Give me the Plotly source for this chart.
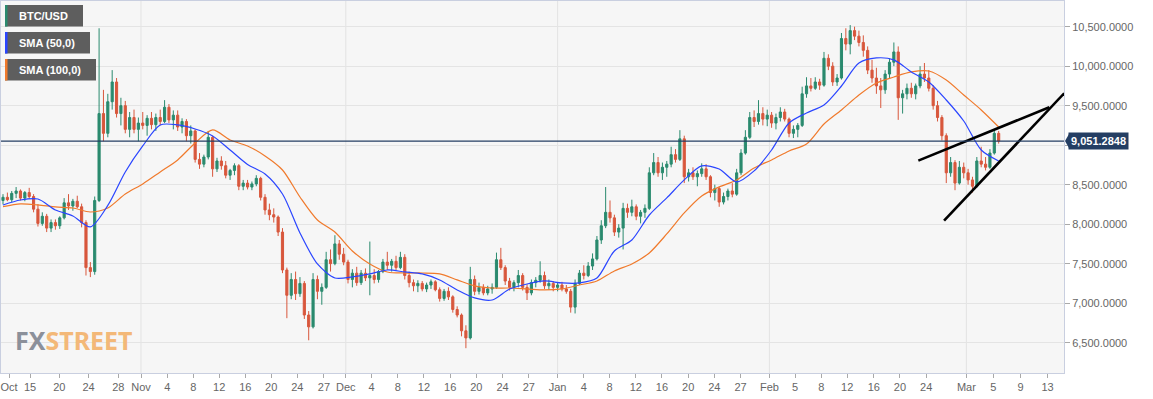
import plotly.graph_objects as go

# ---------------- data ----------------
open_ = [
    8300, 8340, 8310, 8390, 8420, 8330, 8400, 8350, 8190, 8010,
    8100, 7950, 8020, 7980, 8080, 8270, 8230, 8290, 8220, 8020,
    7450, 7400, 8300, 9400, 9150, 9550, 9800, 9400, 9500, 9200,
    9350, 9200, 9280, 9250, 9340, 9260, 9350, 9300, 9480, 9320,
    9380, 9230, 9300, 9120, 9180, 8820, 8760, 8850, 9100, 8700,
    8800, 8740, 8620, 8680, 8740, 8480, 8520, 8470, 8510, 8580,
    8340, 8180, 8120, 8090, 7900, 7420, 7100, 7300, 7120, 7250,
    6850, 6700, 7300, 7150, 7200, 7550, 7500, 7750, 7620, 7520,
    7300, 7380, 7260, 7380, 7320, 7350, 7300, 7400, 7520, 7480,
    7530, 7450, 7580, 7350, 7260, 7220, 7250, 7180, 7230, 7270,
    7170, 7060, 7150, 7080, 6920, 6850, 6650, 6560, 7300, 7150,
    7200, 7130, 7180, 7200, 7550, 7450, 7280, 7200, 7260, 7350,
    7200, 7130, 7260, 7290, 7350, 7220, 7250, 7200, 7230, 7180,
    7150, 6950, 7250, 7380, 7350, 7470, 7560, 7800, 7980, 8150,
    8080, 7900, 7950, 8200, 8150, 8220, 8100, 8150, 8200, 8650,
    8780, 8650, 8720, 8760, 8880, 8820, 9080, 8600, 8650, 8600,
    8640, 8700, 8600, 8400, 8450, 8280, 8350, 8420, 8380, 8650,
    8900, 9100, 9350, 9300, 9400, 9330, 9380, 9280, 9350, 9420,
    9330, 9150, 9200, 9250, 9650, 9750, 9720, 9800, 9760, 10100,
    10000, 9800, 9850, 10350, 10280, 10450, 10380, 10300, 10200, 9950,
    9850, 9750, 9700, 9900, 10050, 10180, 9600, 9650, 9720, 9650,
    9750, 9900, 9850, 9720, 9500, 9350, 9120, 8650, 8780, 8520,
    8720, 8650, 8560, 8480, 8800, 8760, 8720, 8900, 9150,
]
high_ = [
    8380, 8400, 8420, 8470, 8440, 8420, 8460, 8380, 8250, 8150,
    8130, 8060, 8060, 8100, 8330, 8380, 8320, 8360, 8260, 8050,
    7520, 8350, 10480, 9700, 9650, 9950, 9850, 9600, 9560, 9420,
    9450, 9350, 9420, 9380, 9420, 9400, 9450, 9570, 9520, 9440,
    9440, 9340, 9330, 9250, 9200, 8900, 8880, 9180, 9120, 8840,
    8860, 8800, 8700, 8770, 8760, 8560, 8560, 8540, 8620, 8600,
    8380, 8260, 8200, 8110, 7950, 7450, 7380, 7400, 7330, 7280,
    6900, 7380, 7350, 7250, 7650, 7680, 7860, 7800, 7700, 7550,
    7430, 7460, 7420, 7440, 7780, 7430, 7420, 7560, 7650, 7560,
    7600, 7650, 7620, 7400, 7300, 7290, 7280, 7260, 7300, 7290,
    7200, 7180, 7200, 7100, 6960, 6870, 6720, 7460, 7350, 7260,
    7240, 7220, 7250, 7640, 7700, 7480, 7320, 7290, 7420, 7380,
    7240, 7300, 7330, 7530, 7400, 7300, 7280, 7260, 7270, 7230,
    7180, 7300, 7420, 7480, 7520, 7630, 7850, 8050, 8470, 8300,
    8120, 8000, 8270, 8260, 8310, 8250, 8180, 8250, 8720, 8900,
    8850, 8780, 8800, 8980, 8950, 9190, 9120, 8700, 8720, 8680,
    8770, 8760, 8620, 8500, 8480, 8400, 8450, 8520, 8700, 8950,
    9190, 9420, 9440, 9570, 9480, 9450, 9420, 9400, 9480, 9460,
    9350, 9250, 9280, 9740, 9860, 9850, 9860, 9840, 10180, 10150,
    10050, 9900, 10420, 10480, 10520, 10500, 10450, 10390, 10250, 10080,
    9980, 9850, 9950, 10100, 10300, 10250, 9700, 9780, 9790, 9780,
    10000, 10040, 9950, 9760, 9560, 9380, 9150, 8850, 8810, 8800,
    8780, 8700, 8600, 8850, 8980, 8850, 8950, 9200, 9180,
]
low_ = [
    8250, 8290, 8280, 8330, 8300, 8290, 8320, 8150, 7970, 7980,
    7900, 7900, 7930, 7940, 8060, 8180, 8170, 8200, 7960, 7350,
    7330, 7360, 8280, 9050, 9100, 9450, 9350, 9250, 9150, 9100,
    9150, 9050, 9200, 9120, 9200, 9180, 9250, 9280, 9280, 9200,
    9180, 9150, 9050, 9020, 8780, 8700, 8720, 8820, 8600, 8660,
    8690, 8580, 8560, 8620, 8430, 8430, 8440, 8430, 8480, 8300,
    8120, 8050, 8020, 7850, 7380, 6810, 7050, 7040, 7080, 6800,
    6530, 6680, 7050, 6980, 7180, 7400, 7480, 7550, 7480, 7250,
    7200, 7220, 7230, 7280, 7100, 7250, 7260, 7380, 7420, 7400,
    7420, 7430, 7300, 7200, 7150, 7140, 7150, 7140, 7180, 7150,
    7020, 7030, 7040, 6880, 6820, 6580, 6430, 6540, 7100, 7110,
    7100, 7100, 7120, 7180, 7420, 7230, 7160, 7150, 7200, 7160,
    7040, 7100, 7200, 7260, 7180, 7170, 7150, 7150, 7150, 7120,
    6880, 6870, 7230, 7300, 7330, 7420, 7540, 7750, 7950, 8020,
    7850, 7830, 7680, 8080, 8100, 8050, 8010, 8080, 8180, 8620,
    8600, 8560, 8600, 8720, 8780, 8800, 8520, 8540, 8560, 8480,
    8600, 8560, 8340, 8300, 8220, 8250, 8300, 8340, 8360, 8620,
    8880, 9080, 9230, 9260, 9250, 9240, 9220, 9200, 9300, 9300,
    9100, 9090, 9100, 9230, 9600, 9680, 9700, 9700, 9740, 9950,
    9750, 9750, 9830, 10200, 10150, 10330, 10250, 10120, 9900, 9790,
    9650, 9470, 9650, 9850, 10000, 9320, 9400, 9580, 9600, 9580,
    9720, 9800, 9680, 9450, 9300, 9060, 8520, 8600, 8430, 8500,
    8580, 8500, 8400, 8460, 8720, 8680, 8700, 8880, 9020,
]
close_ = [
    8340, 8310, 8390, 8420, 8330, 8400, 8350, 8190, 8010, 8100,
    7950, 8020, 7980, 8080, 8270, 8230, 8290, 8220, 8020, 7450,
    7400, 8300, 9400, 9150, 9550, 9800, 9400, 9500, 9200, 9350,
    9200, 9280, 9250, 9340, 9260, 9350, 9300, 9480, 9320, 9380,
    9230, 9300, 9120, 9180, 8820, 8760, 8850, 9100, 8700, 8800,
    8740, 8620, 8680, 8740, 8480, 8520, 8470, 8510, 8580, 8340,
    8180, 8120, 8090, 7900, 7420, 7100, 7300, 7120, 7250, 6850,
    6700, 7300, 7150, 7200, 7550, 7500, 7750, 7620, 7520, 7300,
    7380, 7260, 7380, 7320, 7350, 7300, 7400, 7520, 7480, 7530,
    7450, 7580, 7350, 7260, 7220, 7250, 7180, 7230, 7270, 7170,
    7060, 7150, 7080, 6920, 6850, 6650, 6560, 7300, 7150, 7200,
    7130, 7180, 7200, 7550, 7450, 7280, 7200, 7260, 7350, 7200,
    7130, 7260, 7290, 7350, 7220, 7250, 7200, 7230, 7180, 7150,
    6950, 7250, 7380, 7350, 7470, 7560, 7800, 7980, 8150, 8080,
    7900, 7950, 8200, 8150, 8220, 8100, 8150, 8200, 8650, 8780,
    8650, 8720, 8760, 8880, 8820, 9080, 8600, 8650, 8600, 8640,
    8700, 8600, 8400, 8450, 8280, 8350, 8420, 8380, 8650, 8900,
    9100, 9350, 9300, 9400, 9330, 9380, 9280, 9350, 9420, 9330,
    9150, 9200, 9250, 9650, 9750, 9720, 9800, 9760, 10100, 10000,
    9800, 9850, 10350, 10280, 10450, 10380, 10300, 10200, 9950, 9850,
    9750, 9700, 9900, 10050, 10180, 9600, 9650, 9720, 9650, 9750,
    9900, 9850, 9720, 9500, 9350, 9120, 8650, 8780, 8520, 8720,
    8650, 8560, 8480, 8800, 8760, 8720, 8900, 9150, 9051.2848,
]

sma_idx = list(range(0, 229, 4))
sma50 = [
    8243, 8306, 8319, 8180, 8104, 7965, 8237, 8661, 8990, 9256,
    9256, 9205, 9117, 8939, 8756, 8636, 8382, 7889, 7496, 7319,
    7332, 7370, 7420, 7395, 7370, 7294, 7167, 7066, 7040, 7180,
    7243, 7281, 7256, 7256, 7319, 7661, 7800, 8116, 8332, 8560,
    8737, 8699, 8535, 8674, 8939, 9281, 9408, 9509, 9749, 10040,
    10104, 10079, 9927, 9800, 9572, 9306, 8939, 8800,
]
sma100 = [
    8221, 8256, 8243, 8218, 8205, 8154, 8205, 8382, 8509, 8661,
    8813, 9028, 9193, 9066, 8990, 8863, 8686, 8344, 8053, 7901,
    7661, 7496, 7395, 7382, 7382, 7370, 7294, 7218, 7192, 7192,
    7180, 7167, 7180, 7230, 7281, 7408, 7496, 7636, 7876, 8142,
    8357, 8471, 8560, 8712, 8813, 8927, 9015, 9268, 9446, 9635,
    9787, 9863, 9927, 9939, 9825, 9635, 9446, 9230,
]

# x-axis labels (candle index at which each date label sits)
tick_pos = [1.4, 6.2, 12.9, 19.6, 26.4,
            31.6, 37.6, 43.6, 49.5, 55.5, 61.4, 67.4, 73.5,
            78.5, 84.4, 90.4, 96.4, 102.4, 108.4, 114.4, 120.4,
            127.0, 133.0, 138.9, 144.9, 150.9, 156.9, 162.9, 168.9,
            175.5, 181.4, 187.4, 193.3, 199.4, 205.4, 211.4,
            220.6, 226.8, 233.0, 239.2]
tick_text = ['Oct', '15', '20', '24', '28',
             'Nov', '4', '8', '12', '16', '20', '24', '27',
             'Dec', '4', '8', '12', '16', '20', '24', '27',
             'Jan', '4', '8', '12', '16', '20', '24', '27',
             'Feb', '5', '8', '12', '16', '20', '24',
             'Mar', '5', '9', '13']
y_ticks = [6500, 7000, 7500, 8000, 8500, 9000, 9500, 10000, 10500]

# hand-drawn trend lines (candle index, price)
trend_x = [[209.6, 239.6], [215.5, 243.0]]
trend_y = [[8804, 9480], [8044, 9657]]

legend_names = ['BTC/USD', 'SMA (50,0)', 'SMA (100,0)']

# ---------------- style ----------------
GREEN = '#2a8a6e'
RED = '#d8573c'
BLUE = '#2a45ff'
ORANGE = '#f07a2c'
NAVY = '#243e63'
FONT = 'Liberation Sans, Arial, sans-serif'
legend_colors = [GREEN, BLUE, ORANGE]
legend_widths = [78, 85, 91]

N = len(close_)
idx = list(range(N))
LAST = close_[-1]

fig = go.Figure()
fig.add_trace(go.Candlestick(
    x=idx, open=open_, high=high_, low=low_, close=close_,
    increasing=dict(line=dict(color=GREEN, width=1), fillcolor=GREEN),
    decreasing=dict(line=dict(color=RED, width=1), fillcolor=RED),
    whiskerwidth=0, hoverinfo='skip', showlegend=False))
fig.add_trace(go.Scatter(x=sma_idx, y=sma100, mode='lines',
                         line=dict(color=ORANGE, width=1.2, shape='spline', smoothing=0.8),
                         hoverinfo='skip', showlegend=False))
fig.add_trace(go.Scatter(x=sma_idx, y=sma50, mode='lines',
                         line=dict(color=BLUE, width=1.2, shape='spline', smoothing=0.8),
                         hoverinfo='skip', showlegend=False))

# month separators
for p, t in zip(tick_pos, tick_text):
    if t.isalpha() and t != 'Oct':
        fig.add_shape(type='line', x0=p, x1=p, y0=0, y1=1, yref='paper',
                      line=dict(color='#e3e3e3', width=1), layer='below')

# trend lines
for xs, ys in zip(trend_x, trend_y):
    fig.add_shape(type='line', x0=xs[0], x1=xs[1], y0=ys[0], y1=ys[1],
                  line=dict(color='black', width=2.6), layer='above')

# last price line + tag
fig.add_shape(type='line', xref='paper', x0=0, x1=1, y0=LAST, y1=LAST,
              line=dict(color=NAVY, width=1.3), layer='above')
fig.add_shape(type='path', xref='paper', xanchor=1, xsizemode='pixel',
              yref='y', yanchor=LAST, ysizemode='pixel',
              path='M 1,0 L 5,7 L 5,-7 Z', fillcolor=NAVY, line=dict(width=0))
fig.add_annotation(x=1, xref='paper', xanchor='left', xshift=4,
                   y=LAST, yref='y', yanchor='middle',
                   text='<b>' + f'{LAST:,.4f}' + '</b>', showarrow=False,
                   bgcolor=NAVY, borderpad=2,
                   font=dict(family=FONT, size=11, color='white'))

# legend boxes
for k, (name, col, w) in enumerate(zip(legend_names, legend_colors, legend_widths)):
    top = 4 + 27 * k
    fig.add_shape(type='rect', xref='paper', xanchor=0, xsizemode='pixel', x0=4, x1=4 + w,
                  yref='paper', yanchor=1, ysizemode='pixel', y0=-top, y1=-(top + 21.5),
                  fillcolor='#5e5e5e', line=dict(width=0), layer='above')
    fig.add_shape(type='rect', xref='paper', xanchor=0, xsizemode='pixel', x0=4, x1=6.5,
                  yref='paper', yanchor=1, ysizemode='pixel', y0=-top, y1=-(top + 21.5),
                  fillcolor=col, line=dict(width=0), layer='above')
    fig.add_annotation(x=0, xref='paper', xanchor='left', xshift=15.5,
                       y=1, yref='paper', yanchor='middle', yshift=-(top + 10.75),
                       text='<b>' + name + '</b>', showarrow=False,
                       font=dict(family=FONT, size=11, color='white'))

# watermark
fig.add_annotation(x=0, xref='paper', xanchor='left', xshift=12,
                   y=0, yref='paper', yanchor='middle', yshift=33,
                   text='<b><span style="fill:#8b909a">FX</span>'
                        '<span style="fill:#f3b878">STREET</span></b>',
                   showarrow=False,
                   font=dict(family='Noto Sans, sans-serif', size=25))

y_text = ['' if abs(v - LAST) < 100 else f'{v:,.4f}' for v in y_ticks]

fig.update_layout(
    width=1153, height=399,
    margin=dict(l=1, r=89, t=1, b=26),
    paper_bgcolor='white', plot_bgcolor='#f6f6f6',
    font=dict(family=FONT, size=11, color='#666666'),
    showlegend=False,
    hovermode=False,
    xaxis=dict(range=[-0.46, 242.96], tickvals=tick_pos, ticktext=tick_text,
               ticks='outside', ticklen=4, tickcolor='#a9a9a9',
               showgrid=False, zeroline=False, showline=True, linecolor='#c9cfe0',
               mirror=True, rangeslider=dict(visible=False),
               tickfont=dict(family=FONT, size=11, color='#666666')),
    yaxis=dict(range=[6116, 10825], side='right', tickvals=y_ticks, ticktext=y_text,
               ticks='outside', ticklen=5, tickcolor='#a9a9a9',
               showgrid=True, gridcolor='#e4e4e4', gridwidth=1, zeroline=False,
               showline=True, linecolor='#c9cfe0', mirror=True,
               tickfont=dict(family=FONT, size=11, color='#666666')),
)

fig.write_html("out.html", config={'displayModeBar': False},
               post_script="document.body.style.margin='0';document.body.style.overflow='hidden';")
